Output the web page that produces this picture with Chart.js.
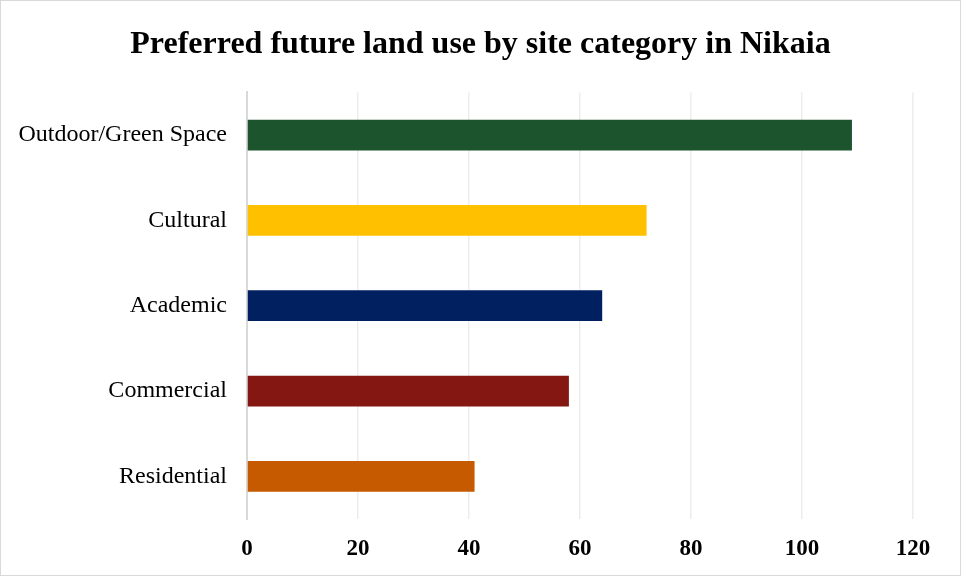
<!DOCTYPE html>
<html>
<head>
<meta charset="utf-8">
<script src="https://cdn.jsdelivr.net/npm/chart.js@4"></script>
<style>
  html, body { margin: 0; padding: 0; background: #fff; }
  #wrap {
    width: 961px; height: 576px; box-sizing: border-box;
    border: 1px solid #d9d9d9; position: relative;
  }
  canvas { display: block; }
</style>
</head>
<body>
<div id="wrap"><canvas id="chart" width="959" height="574"></canvas></div>
<script>
// Site categories, top to bottom
const categories = ['Outdoor/Green Space', 'Cultural', 'Academic', 'Commercial', 'Residential']
const counts = [109, 72, 64, 58, 41]
const barColors = ['#1c552d', '#ffc000', '#002060', '#841711', '#c55a00']
const xTicks = [0, 20, 40, 60, 80, 100, 120]

const serif = '"Liberation Serif", "Times New Roman", serif'

new Chart(document.getElementById('chart').getContext('2d'), {
  type: 'bar',
  data: {
    labels: categories,
    datasets: [{
      data: counts,
      backgroundColor: barColors,
      borderWidth: 0,
      categoryPercentage: 1,
      barPercentage: 0.36,
    }]
  },
  options: {
    indexAxis: 'y',
    responsive: false,
    animation: false,
    layout: {
      padding: 0
    },
    plugins: {
      legend: { display: false },
      tooltip: { enabled: false },
      title: {
        display: true,
        text: 'Preferred future land use by site category in Nikaia',
        color: '#000',
        font: { family: serif, size: 32, weight: 'bold', lineHeight: 1.2 },
        padding: { top: 25, bottom: 28 },
      }
    },
    scales: {
      x: {
        min: 0,
        max: 120,
        afterBuildTicks: function(axis) {
          axis.ticks = xTicks.map(v => ({ value: v }))
        },
        afterFit: function(axis) {
          axis.height = 56
        },
        grid: {
          color: '#ededed',
          lineWidth: 1.5,
          drawTicks: false,
        },
        border: { display: false },
        ticks: {
          color: '#000',
          padding: 16,
          font: { family: serif, size: 23, weight: 'bold' },
        }
      },
      y: {
        afterFit: function(axis) {
          axis.width = 246
        },
        grid: { display: false, drawTicks: false },
        border: { display: true, color: '#d9d9d9', width: 2 },
        ticks: {
          color: '#000',
          padding: 20,
          font: { family: serif, size: 24 },
        }
      },
      // empty spacer on the right so the plot ends where the reference does
      spacer: {
        type: 'linear',
        position: 'right',
        display: true,
        afterFit: function(axis) {
          axis.width = 47
        },
        grid: { display: false, drawTicks: false },
        border: { display: false },
        ticks: { display: false },
      }
    }
  }
})
</script>
</body>
</html>
